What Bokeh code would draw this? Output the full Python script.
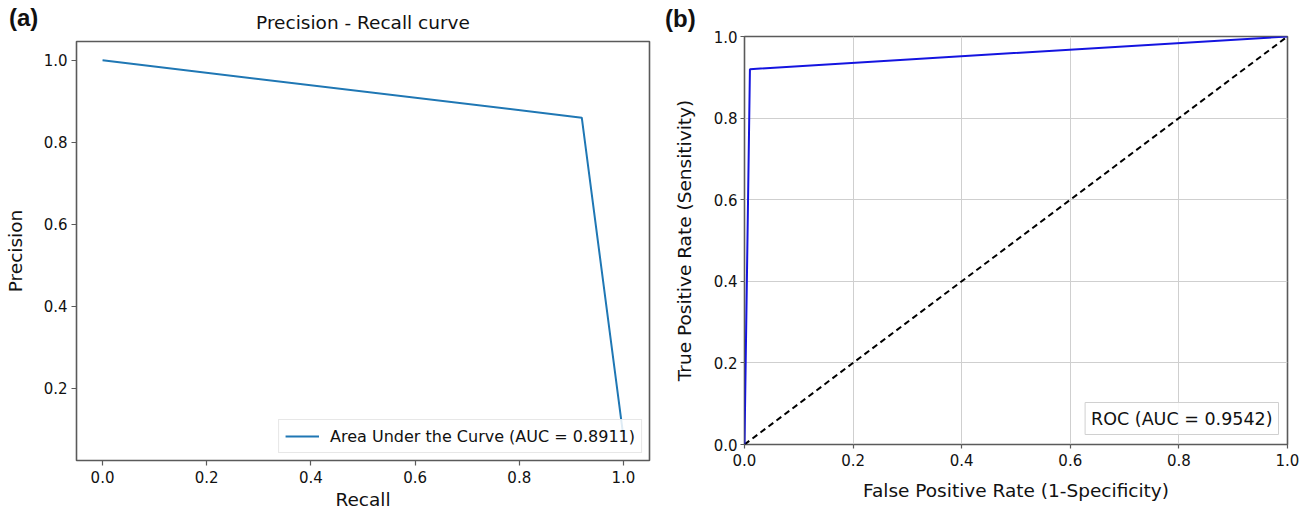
from bokeh.plotting import figure
from bokeh.layouts import row, column
from bokeh.models import Range1d, Legend, LegendItem, Label, NumeralTickFormatter, FixedTicker, Div
from bokeh.embed import file_html
from bokeh.resources import INLINE

# ---- data ----
recall = [0.0, 0.92, 1.0]
precision = [1.0, 0.86, 0.08]
pr_label = "Area Under the Curve (AUC = 0.8911)"

fpr = [0.0, 0.01, 1.0]
tpr = [0.0, 0.92, 1.0]
chance_x = [0.0, 1.0]
chance_y = [0.0, 1.0]
roc_label = "ROC (AUC = 0.9542)"

ticks = [0.0, 0.2, 0.4, 0.6, 0.8, 1.0]
panel_tags = ["(a)", "(b)"]

FONT = "DejaVu Sans"
FRAME = "#5a5a5a"


def style_axes(p, tick_size="15px", label_size="18.5px"):
    for ax in (p.xaxis[0], p.yaxis[0]):
        ax.axis_line_color = None
        ax.major_tick_line_color = FRAME
        ax.major_tick_line_width = 1.2
        ax.major_tick_in = 0
        ax.minor_tick_line_color = None
        ax.major_label_text_font = FONT
        ax.major_label_text_font_size = tick_size
        ax.major_label_text_color = "#111111"
        ax.axis_label_text_font = FONT
        ax.axis_label_text_font_size = label_size
        ax.axis_label_text_font_style = "normal"
        ax.axis_label_text_color = "#111111"
        ax.formatter = NumeralTickFormatter(format="0.0")
        ax.ticker = FixedTicker(ticks=ticks)
    p.outline_line_color = FRAME
    p.outline_line_width = 1.6
    p.background_fill_color = "white"
    p.border_fill_color = "white"


# ---- panel (a) ----
pa = figure(width=656, height=512, output_backend="svg", toolbar_location=None,
            x_range=Range1d(-0.05, 1.05), y_range=Range1d(0.023, 1.046),
            min_border_left=76, min_border_right=7, min_border_top=40, min_border_bottom=50,
            title="Precision - Recall curve")
pa.title.text_font = FONT
pa.title.text_font_size = "18.5px"
pa.title.text_font_style = "normal"
pa.title.text_color = "#111111"
pa.title.align = "center"
pa.title.standoff = 18
style_axes(pa)
pa.xaxis.axis_label = "Recall"
pa.yaxis.axis_label = "Precision"
pa.xaxis.major_tick_out = 5
pa.xaxis.major_label_standoff = 5
pa.xaxis.axis_label_standoff = 3
pa.yaxis.major_tick_out = 5
pa.yaxis.major_label_standoff = 4
pa.yaxis.axis_label_standoff = 15
pa.xgrid.visible = False
pa.ygrid.visible = False

r_pr = pa.line(recall, precision, line_color="#1f77b4", line_width=2)
leg_a = Legend(items=[LegendItem(label=pr_label, renderers=[r_pr])], location="bottom_right")
leg_a.label_text_font = FONT
leg_a.label_text_font_size = "16px"
leg_a.label_text_color = "#111111"
leg_a.glyph_width = 34
leg_a.glyph_height = 20
leg_a.label_standoff = 11
leg_a.padding = 6
leg_a.margin = 7
leg_a.border_line_color = "#d0d0d0"
leg_a.border_line_width = 1
leg_a.background_fill_alpha = 0.85
pa.add_layout(leg_a)

# ---- panel (b) ----
pb = figure(width=643, height=512, output_backend="svg", toolbar_location=None,
            x_range=Range1d(0, 1), y_range=Range1d(0, 1),
            min_border_left=88, min_border_right=12, min_border_top=36, min_border_bottom=68)
style_axes(pb)
pb.xaxis.axis_label = "False Positive Rate (1-Specificity)"
pb.yaxis.axis_label = "True Positive Rate (Sensitivity)"
pb.xaxis.major_tick_out = 4
pb.xaxis.major_label_standoff = 5
pb.xaxis.axis_label_standoff = 11
pb.yaxis.major_tick_out = 4
pb.yaxis.major_label_standoff = 3
pb.yaxis.axis_label_standoff = 16
for g in (pb.xgrid[0], pb.ygrid[0]):
    g.grid_line_color = "#cfcfcf"
    g.grid_line_width = 1
    g.ticker = FixedTicker(ticks=ticks)

pb.line(chance_x, chance_y, line_color="black", line_width=2, line_dash="6 4")
pb.line(fpr, tpr, line_color="#1414e0", line_width=2)

pb.add_layout(Label(x=1.0, y=0.0, x_offset=-9, y_offset=10, text=roc_label,
                    text_align="right", text_baseline="bottom",
                    text_font=FONT, text_font_size="17.5px", text_color="#111111",
                    padding=6, border_line_color="#d0d0d0", border_line_width=1,
                    background_fill_color="white", background_fill_alpha=0.85))


# ---- panel tags, laid over the page corner of each panel ----
def tag(text, left, top):
    html = ('<span style="font-family: \'Liberation Sans\', Arial, sans-serif; '
            'font-weight: bold; font-size: 24px; color: #111111; line-height: 27px;">'
            + text + '</span>')
    return Div(text=html, width=44, height=28, margin=0,
               styles={"position": "absolute", "left": f"{left}px", "top": f"{top}px",
                       "z-index": "10", "margin": "0", "padding": "0"})


tag_a = tag(panel_tags[0], 9, 4)
tag_b = tag(panel_tags[1], 665, 5)

layout = row(column(pa), column(pb), tag_a, tag_b)
open("out.html", "w").write(file_html(layout, INLINE))
